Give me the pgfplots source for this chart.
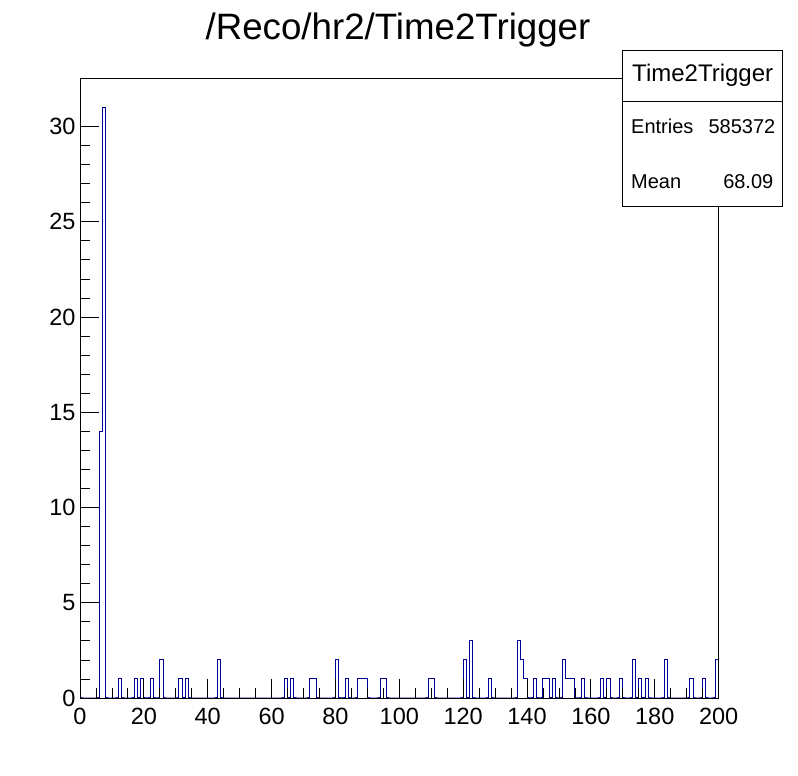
\documentclass[border=0pt]{standalone}
\usepackage{fontspec}
\setmainfont{Liberation Sans}
\usepackage{pgfplots}
\pgfplotsset{compat=1.18}
\definecolor{rootblue}{RGB}{0,0,153}

\begin{document}
\begin{tikzpicture}[x=1pt,y=1pt]
\useasboundingbox (0,0) rectangle (798,776);
\begin{axis}[
  at={(80pt,78pt)}, anchor=south west,
  scale only axis, width=638.6pt, height=620pt,
  xmin=0, xmax=200, ymin=0, ymax=32.55,
  xtick={0,20,...,200}, ytick={0,5,...,30},
  minor x tick num=3, minor y tick num=4,
  tick align=inside, tick pos=left,
  major tick length=19pt, minor tick length=9.5pt,
  tick style={black, line width=0.8pt},
  axis line style={line width=0.8pt},
  ticklabel style={font=\fontsize{23.5}{27}\selectfont},
  xticklabel style={yshift=-7pt},
  yticklabel style={xshift=-1pt},
  /pgf/number format/assume math mode=true,
  axis on top,
]
% Time2Trigger, 1 unit bins, counts
\addplot[const plot mark left, rootblue, line width=1pt] coordinates {
(0,0)(1,0)(2,0)(3,0)(4,0)(5,0)(6,14)(7,31)(8,0)(9,0)
(10,0)(11,0)(12,1)(13,0)(14,0)(15,0)(16,0)(17,1)(18,0)(19,1)
(20,0)(21,0)(22,1)(23,0)(24,0)(25,2)(26,0)(27,0)(28,0)(29,0)
(30,0)(31,1)(32,0)(33,1)(34,0)(35,0)(36,0)(37,0)(38,0)(39,0)
(40,0)(41,0)(42,0)(43,2)(44,0)(45,0)(46,0)(47,0)(48,0)(49,0)
(50,0)(51,0)(52,0)(53,0)(54,0)(55,0)(56,0)(57,0)(58,0)(59,0)
(60,0)(61,0)(62,0)(63,0)(64,1)(65,0)(66,1)(67,0)(68,0)(69,0)
(70,0)(71,0)(72,1)(73,1)(74,0)(75,0)(76,0)(77,0)(78,0)(79,0)
(80,2)(81,0)(82,0)(83,1)(84,0)(85,0)(86,0)(87,1)(88,1)(89,1)
(90,0)(91,0)(92,0)(93,0)(94,1)(95,1)(96,0)(97,0)(98,0)(99,0)
(100,0)(101,0)(102,0)(103,0)(104,0)(105,0)(106,0)(107,0)(108,0)(109,1)
(110,1)(111,0)(112,0)(113,0)(114,0)(115,0)(116,0)(117,0)(118,0)(119,0)
(120,2)(121,0)(122,3)(123,0)(124,0)(125,0)(126,0)(127,0)(128,1)(129,0)
(130,0)(131,0)(132,0)(133,0)(134,0)(135,0)(136,0)(137,3)(138,2)(139,1)
(140,0)(141,0)(142,1)(143,0)(144,0)(145,1)(146,1)(147,0)(148,1)(149,0)
(150,0)(151,2)(152,1)(153,1)(154,1)(155,0)(156,0)(157,1)(158,0)(159,0)
(160,0)(161,0)(162,0)(163,1)(164,0)(165,1)(166,0)(167,0)(168,0)(169,1)
(170,0)(171,0)(172,0)(173,2)(174,0)(175,1)(176,0)(177,1)(178,0)(179,0)
(180,0)(181,0)(182,0)(183,2)(184,0)(185,0)(186,0)(187,0)(188,0)(189,0)
(190,0)(191,1)(192,0)(193,0)(194,0)(195,1)(196,0)(197,0)(198,0)(199,2)
(200,2)
};
\end{axis}
% title
\node[anchor=base, font=\fontsize{36.7}{40}\selectfont] at (398,736) {/Reco/hr2/Time2Trigger};
% stats box
\draw[fill=white, line width=0.8pt] (622.7,570) rectangle (782.7,725.3);
\draw[line width=0.8pt] (622.7,674.3) -- (782.7,674.3);
\node[anchor=base, font=\fontsize{24}{28}\selectfont] at (702.7,694.3) {Time2Trigger};
\node[anchor=base west, inner sep=0pt, font=\fontsize{20}{24}\selectfont] at (631,642.7) {Entries};
\node[anchor=base east, inner sep=0pt, font=\fontsize{20}{24}\selectfont] at (775.5,642.7) {585372};
\node[anchor=base west, inner sep=0pt, font=\fontsize{20}{24}\selectfont] at (631,587.7) {Mean};
\node[anchor=base east, inner sep=0pt, font=\fontsize{20}{24}\selectfont] at (773.5,587.7) {68.09};
\end{tikzpicture}
\end{document}
